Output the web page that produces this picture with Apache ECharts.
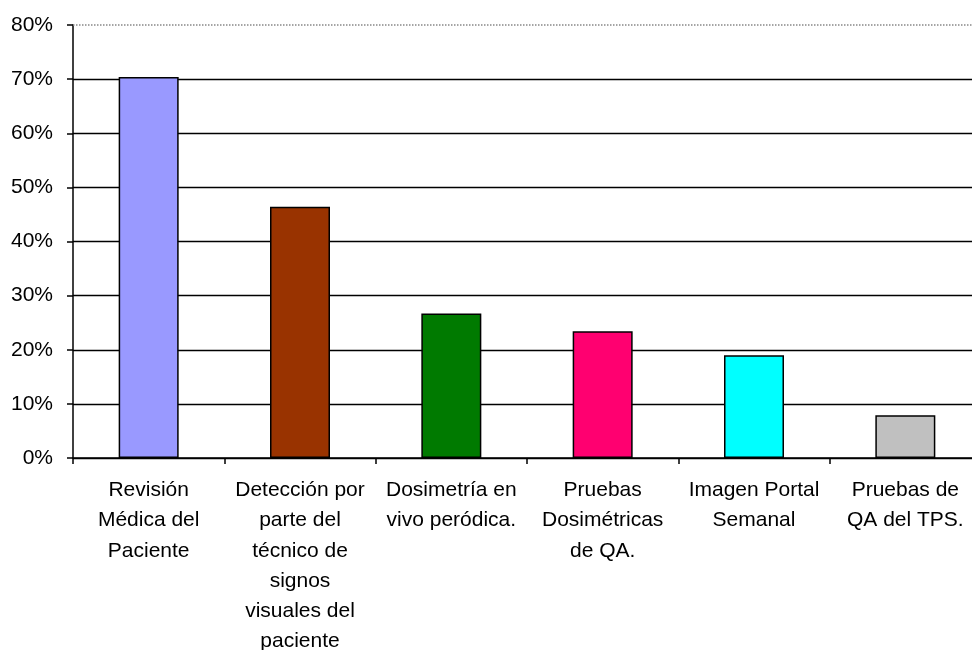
<!DOCTYPE html>
<html>
<head>
<meta charset="utf-8">
<script src="https://cdn.jsdelivr.net/npm/echarts@6/dist/echarts.min.js"></script>
<style>
html,body{margin:0;padding:0;background:#fff;}
#c{width:972px;height:650px;}
</style>
</head>
<body>
<div id="c"></div>
<script>
var categories = [
  "Revisión\nMédica del\nPaciente",
  "Detección por\nparte del\ntécnico de\nsignos\nvisuales del\npaciente",
  "Dosimetría en\nvivo peródica.",
  "Pruebas\nDosimétricas\nde QA.",
  "Imagen Portal\nSemanal",
  "Pruebas de\nQA del TPS."
];
var values = [70.4, 46.4, 26.7, 23.4, 19.0, 7.9];
var barColors = ["#9999FF", "#993300", "#007A00", "#FF0070", "#00FFFF", "#C0C0C0"];
var yTicks = [0, 10, 20, 30, 40, 50, 60, 70, 80];

var font = '"Liberation Sans", Arial, sans-serif';
var chart = echarts.init(document.getElementById('c'));
var splitColors = yTicks.map(function (v, i) { return i === yTicks.length - 1 ? 'rgba(0,0,0,0)' : '#000'; });

chart.setOption({
  animation: false,
  backgroundColor: '#fff',
  grid: { left: 73, top: 25, right: -9, bottom: 192, containLabel: false, outerBoundsMode: 'none' },
  xAxis: {
    type: 'category',
    data: categories,
    boundaryGap: true,
    axisLine: { lineStyle: { color: '#000', width: 1.5 } },
    axisTick: { show: true, length: 6, lineStyle: { color: '#000', width: 1.5 } },
    axisLabel: {
      interval: 0, margin: 17, color: '#000', fontFamily: font, fontSize: 21,
      lineHeight: 30.3, align: 'center'
    },
    splitLine: { show: false }
  },
  yAxis: {
    type: 'value',
    min: yTicks[0], max: yTicks[yTicks.length - 1], interval: 10,
    axisLine: { show: true, lineStyle: { color: '#000', width: 1.5 } },
    axisTick: { show: true, length: 6, lineStyle: { color: '#000', width: 1.5 } },
    axisLabel: { formatter: '{value}%', margin: 20, color: '#000', fontFamily: font, fontSize: 21 },
    splitLine: { show: true, lineStyle: { color: splitColors, width: 1.3 } }
  },
  series: [{
    type: 'bar',
    data: values.map(function (v, i) {
      return { value: v, itemStyle: { color: barColors[i] } };
    }),
    barWidth: 60,
    itemStyle: { borderColor: '#000', borderWidth: 1.5 },
    markLine: {
      silent: true, symbol: 'none', label: { show: false },
      lineStyle: { color: '#888', type: 'dotted', width: 1.5 },
      data: [{ yAxis: yTicks[yTicks.length - 1] }]
    }
  }]
});
</script>
</body>
</html>
